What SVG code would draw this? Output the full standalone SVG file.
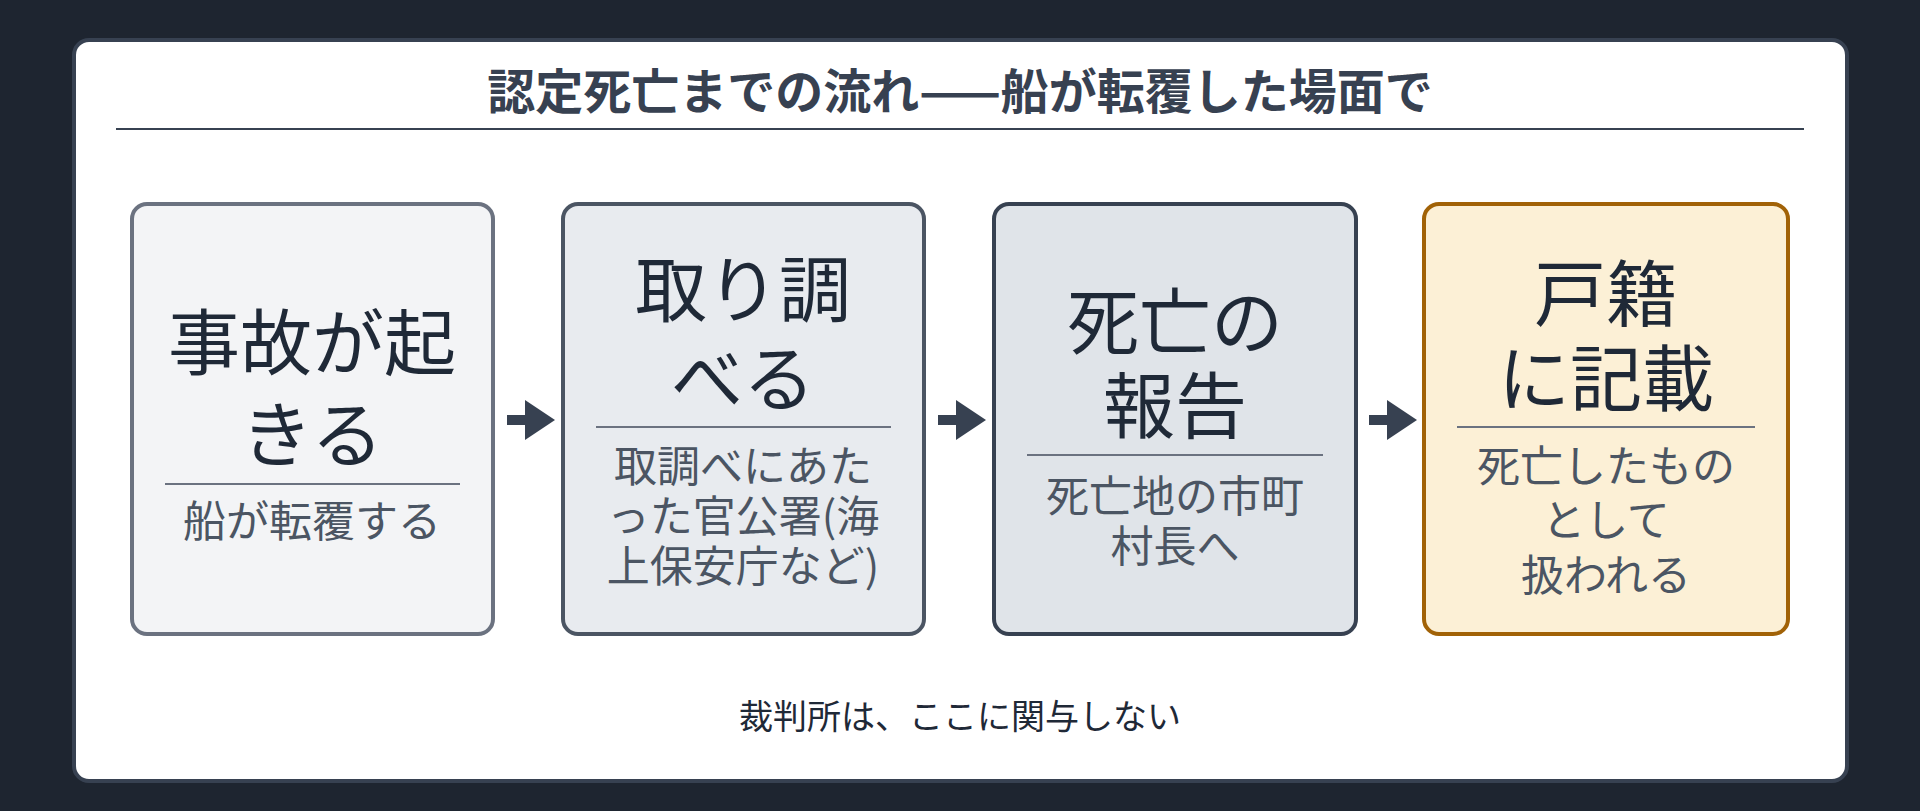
<svg xmlns="http://www.w3.org/2000/svg" width="1920" height="811" viewBox="0 0 1920 811">
<style>
text{font-family:"Noto Sans CJK JP","Noto Sans",sans-serif;text-anchor:middle;dominant-baseline:central}
.main{font-size:72px;fill:#1f2937}
.sub{font-size:43px;fill:#4b5563}
.div{stroke:#6b7280;stroke-width:2}
</style>
<defs>
<marker id="ah" markerWidth="4" markerHeight="4" refX="1" refY="2" orient="auto" markerUnits="strokeWidth">
<path d="M0,0 L3,2 L0,4 z" fill="#374151"/>
</marker>
</defs>
<rect width="1920" height="811" fill="#1e2530"/>
<rect x="74" y="40" width="1773" height="741" rx="15" fill="#ffffff" stroke="#374151" stroke-width="4"/>
<text x="960" y="88" style="font-size:48px;font-weight:bold;fill:#374151">認定死亡までの流れ——船が転覆した場面で</text>
<line x1="116" y1="129" x2="1804" y2="129" stroke="#374151" stroke-width="2"/>
<g id="n1">
<rect x="132" y="204" width="361" height="430" rx="15" fill="#f3f4f6" stroke="#6b7280" stroke-width="4"/>
<text class="main" x="312" y="337">事故が起</text>
<text class="main" x="312" y="429">きる</text>
<line class="div" x1="165" y1="484" x2="460" y2="484"/>
<text class="sub" x="312" y="518">船が転覆する</text>
</g>
<g id="n2">
<rect x="563" y="204" width="361" height="430" rx="15" fill="#e8ebef" stroke="#4b5563" stroke-width="4"/>
<text class="main" x="743" y="284">取り調</text>
<text class="main" x="743" y="373">べる</text>
<line class="div" x1="596" y1="427" x2="891" y2="427"/>
<text class="sub" x="743" y="463">取調べにあた</text>
<text class="sub" x="743" y="513">った官公署(海</text>
<text class="sub" x="743" y="563">上保安庁など)</text>
</g>
<g id="n3">
<rect x="994" y="204" width="362" height="430" rx="15" fill="#e0e4e9" stroke="#374151" stroke-width="4"/>
<text class="main" x="1175" y="316">死亡の</text>
<text class="main" x="1175" y="400">報告</text>
<line class="div" x1="1027" y1="455" x2="1323" y2="455"/>
<text class="sub" x="1175" y="493">死亡地の市町</text>
<text class="sub" x="1175" y="543">村長へ</text>
</g>
<g id="n4">
<rect x="1424" y="204" width="364" height="430" rx="15" fill="#fcf0d6" stroke="#a16207" stroke-width="4"/>
<text class="main" x="1606" y="288">戸籍</text>
<text class="main" x="1606" y="373">に記載</text>
<line class="div" x1="1457" y1="427" x2="1755" y2="427"/>
<text class="sub" x="1606" y="463">死亡したもの</text>
<text class="sub" x="1606" y="517">として</text>
<text class="sub" x="1606" y="572">扱われる</text>
</g>
<g id="connectors" stroke="#374151" stroke-width="10" marker-end="url(#ah)">
<line x1="507" y1="420" x2="535" y2="420"/>
<line x1="938" y1="420" x2="966" y2="420"/>
<line x1="1369" y1="420" x2="1397" y2="420"/>
</g>
<text x="960" y="714" style="font-size:34px;fill:#1f2937">裁判所は、ここに関与しない</text>
</svg>
